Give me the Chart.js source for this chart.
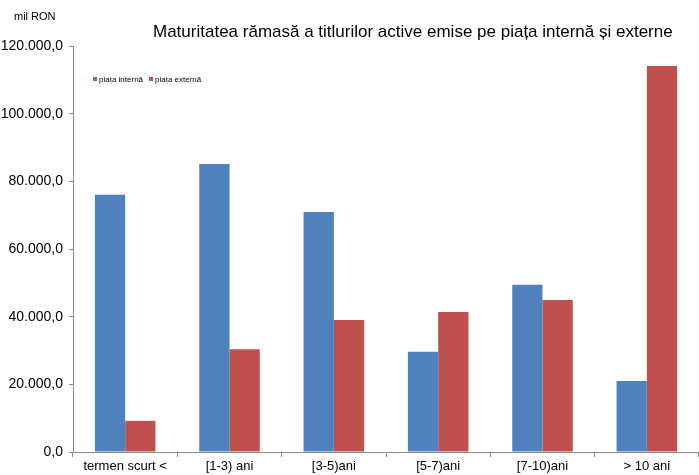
<!DOCTYPE html>
<html>
<head>
<meta charset="utf-8">
<script src="https://cdn.jsdelivr.net/npm/chart.js@4.4.1/dist/chart.umd.min.js"></script>
<style>
  html, body { margin: 0; padding: 0; background: #fff; }
  #wrap { width: 699px; height: 475px; }
</style>
</head>
<body>
<div id="wrap"><canvas id="maturityChart" width="699" height="475"></canvas></div>
<script>
// categorii si valori (mil RON)
const categories = ["termen scurt <", "[1-3) ani", "[3-5)ani", "[5-7)ani", "[7-10)ani", "> 10 ani"];
const internalMarket = [76000, 85100, 70900, 29600, 49400, 21000];
const externalMarket = [9200, 30400, 39000, 41400, 44900, 114100];
const seriesNames = ["piața internă", "piața externă"];
const chartTitle = "Maturitatea rămasă a titlurilor active emise pe piața internă și externe";
const unitLabel = "mil RON";

const blue = "#4F81BD";
const red = "#C0504D";
const axisColor = "#8c8c8c";

// 120000 -> "120.000,0"
function formatRo(value) {
    const s = Math.round(value).toString().replace(/\B(?=(\d{3})+(?!\d))/g, ".");
    return s + ",0";
}

// titlu, unitate si legenda desenate manual
const decorations = {
    id: "decorations",
    afterDraw(chart) {
        const c = chart.ctx;
        c.save();
        c.fillStyle = "#000";
        c.textBaseline = "middle";
        c.font = "17px 'Liberation Sans', Arial, sans-serif";
        c.textAlign = "left";
        c.fillText(chartTitle, 153, 32);

        c.font = "11px 'Liberation Sans', Arial, sans-serif";
        c.fillText(unitLabel, 14, 17);

        // legenda
        c.font = "8px 'Liberation Sans', Arial, sans-serif";
        const items = [[seriesNames[0], blue, 93], [seriesNames[1], red, 149]];
        items.forEach(([text, color, x]) => {
            c.fillStyle = color;
            c.fillRect(x, 77, 4, 4);
            c.fillStyle = "#000";
            c.fillText(text, x + 6, 79.5);
        });
        c.restore();
    }
};

const ctx = document.getElementById("maturityChart").getContext("2d");
new Chart(ctx, {
    type: "bar",
    data: {
        labels: categories,
        datasets: [
            { label: seriesNames[0], data: internalMarket, backgroundColor: blue },
            { label: seriesNames[1], data: externalMarket, backgroundColor: red }
        ]
    },
    options: {
        responsive: false,
        animation: false,
        barPercentage: 1.0,
        categoryPercentage: 0.58,
        layout: { padding: { top: 46, right: 0, left: 0, bottom: 0 } },
        plugins: {
            legend: { display: false },
            tooltip: { enabled: false }
        },
        scales: {
            x: {
                afterFit(scale) { scale.height = 23; },
                grid: { drawOnChartArea: false, drawTicks: true, tickLength: 5, color: axisColor, offset: true },
                border: { display: true, color: axisColor, width: 1 },
                ticks: {
                    color: "#000",
                    padding: 2,
                    maxRotation: 0,
                    font: { family: "'Liberation Sans', Arial, sans-serif", size: 13 }
                }
            },
            y: {
                min: 0,
                max: 120000,
                afterFit(scale) { scale.width = 73; },
                grid: { drawOnChartArea: false, drawTicks: true, tickLength: 4, color: axisColor },
                border: { display: true, color: axisColor, width: 1 },
                ticks: {
                    stepSize: 20000,
                    color: "#000",
                    padding: 6,
                    font: { family: "'Liberation Sans', Arial, sans-serif", size: 14 },
                    callback: function (value) {
                        return formatRo(value);
                    }
                }
            }
        }
    },
    plugins: [decorations]
});
</script>
</body>
</html>
